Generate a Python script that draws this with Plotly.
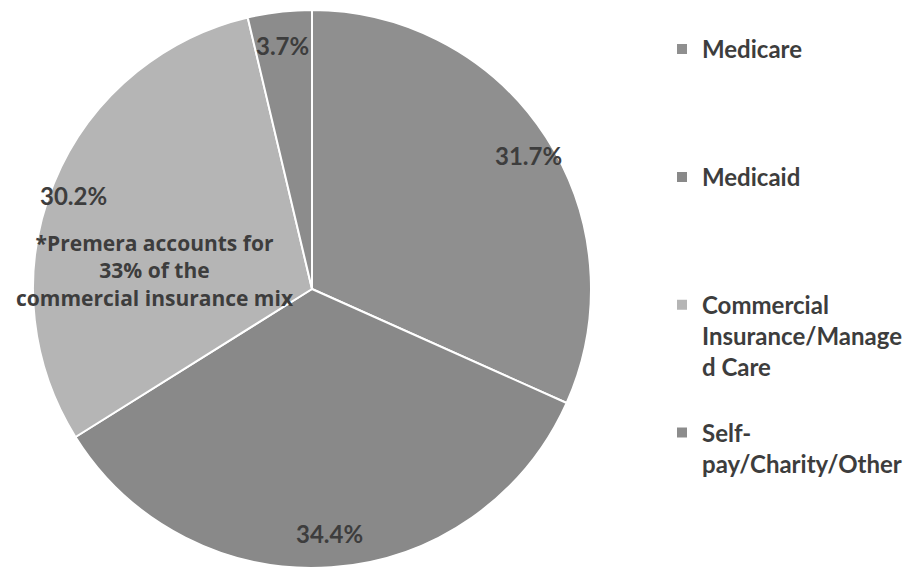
import math
import plotly.graph_objects as go

# ---- data ----
categories = ["Medicare", "Medicaid", "Commercial Insurance/Managed Care", "Self-pay/Charity/Other"]
legend_lines = [
    ["Medicare"],
    ["Medicaid"],
    ["Commercial", "Insurance/Manage", "d Care"],
    ["Self-", "pay/Charity/Other"],
]
shares = [31.7, 34.4, 30.2, 3.7]
slice_colors = ["#8f8f8f", "#898989", "#b5b5b5", "#8c8c8c"]
note_text = "*Premera accounts for<br>33% of the<br>commercial insurance mix"

W, H = 917, 571
PAGE_OFFSET = 8                      # browser body margin around the figure
CX, CY, R = 312 - PAGE_OFFSET, 289 - PAGE_OFFSET, 279  # pie centre / radius in figure px
LABEL_FRAC = 0.88
LABEL_XSTRETCH = 1.05
TEXT = "#3d3d3d"
FONT = "Lato"

# legend labels padded to four lines so entries are evenly spaced
LINES_PER_ITEM = 4
legend_labels = []
for lines in legend_lines:
    padded = lines + ["\u00a0"] * (LINES_PER_ITEM - len(lines))
    legend_labels.append("<br>".join(padded))

fig = go.Figure(
    go.Pie(
        labels=legend_labels,
        values=shares,
        sort=False,
        direction="clockwise",
        rotation=0,
        marker=dict(colors=slice_colors, line=dict(color="white", width=2)),
        textinfo="none",
        hovertext=categories,
        hoverinfo="text+percent",
        domain=dict(x=[(CX - R) / W, (CX + R) / W], y=[(H - CY - R) / H, (H - CY + R) / H]),
    )
)

# percentage labels placed along each slice bisector (Excel "inside end" style)
annotations = []
total = sum(shares)
cum = 0.0
for v in shares:
    mid = (cum + v / 2) / total * 2 * math.pi
    cum += v
    px = CX + LABEL_XSTRETCH * LABEL_FRAC * R * math.sin(mid)
    py = CY - LABEL_FRAC * R * math.cos(mid)
    annotations.append(
        dict(
            x=px / W, y=1 - py / H, xref="paper", yref="paper",
            xanchor="center", yanchor="middle",
            text=f"{v:.1f}%", showarrow=False,
            font=dict(family=FONT, size=24, color=TEXT, weight="bold"),
        )
    )

annotations.append(
    dict(
        x=(155 - PAGE_OFFSET) / W, y=1 - (270 - PAGE_OFFSET) / H, xref="paper", yref="paper",
        xanchor="center", yanchor="middle",
        text=note_text, showarrow=False, align="center",
        font=dict(family="Open Sans", size=21, color=TEXT, weight="bold"),
    )
)

fig.update_layout(
    width=W, height=H,
    margin=dict(l=0, r=0, t=0, b=0, autoexpand=False),
    paper_bgcolor="white",
    plot_bgcolor="white",
    showlegend=True,
    legend=dict(
        x=654 / W, y=1 - 19 / H, xanchor="left", yanchor="top",
        valign="top",
        font=dict(family=FONT, size=24, color=TEXT, weight="bold"),
        bgcolor="rgba(0,0,0,0)",
    ),
    annotations=annotations,
)

fig.write_html("out.html")
